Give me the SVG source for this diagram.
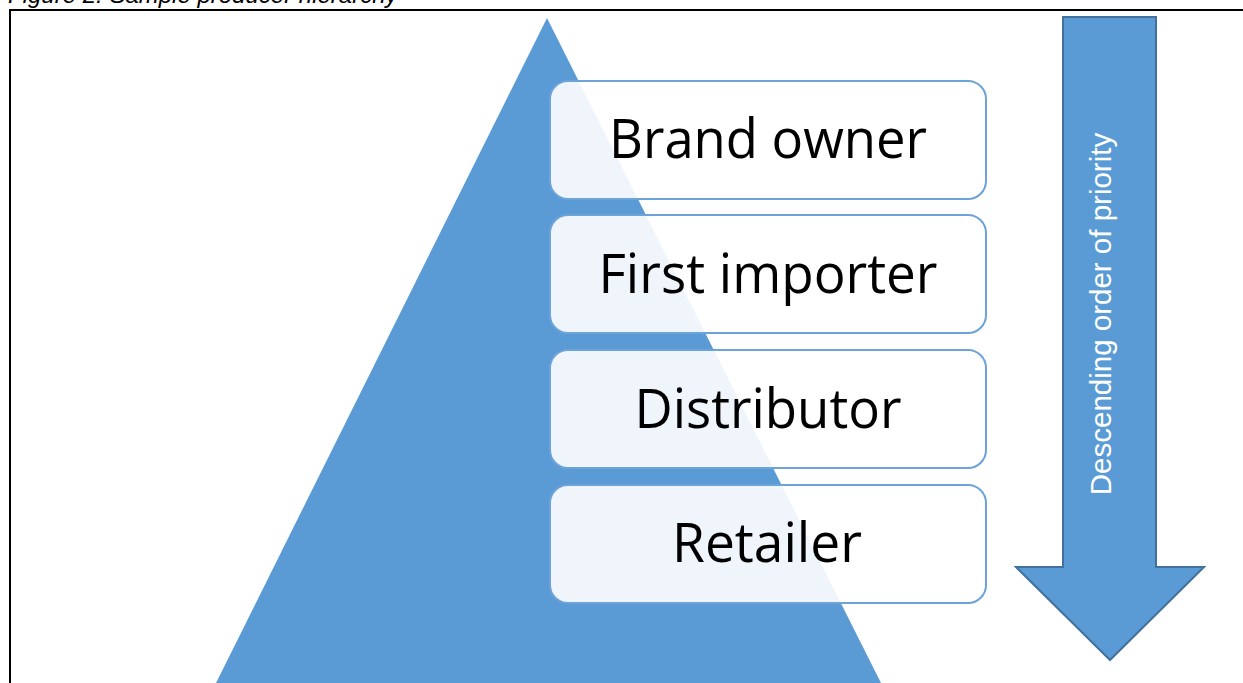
<svg xmlns="http://www.w3.org/2000/svg" width="1243" height="683" viewBox="0 0 1243 683">
<style>
.cap{font-family:"Liberation Sans",Arial,sans-serif;font-style:italic;font-size:24px;fill:#000}
.box{fill:#ffffff;fill-opacity:0.9;stroke:#6CA3D8;stroke-width:2}
.lbl{font-family:"Open Sans","Noto Sans",sans-serif;font-size:55px;fill:#000;text-anchor:middle}
.arr{fill:#5B9BD5;stroke:#41719C;stroke-width:2}
.vt{font-family:"Liberation Sans",Arial,sans-serif;font-size:29.5px;fill:#fff;text-anchor:middle}
</style>
<rect width="1243" height="683" fill="#fff"/>
<text class="cap" x="8" y="2.5">Figure 2: Sample producer hierarchy</text>
<path d="M10 683 V10 H1243" fill="none" stroke="#000" stroke-width="2"/>
<g id="pyramid"><polygon points="547,18 881,683 216,683" fill="#5B9BD5"/></g>
<g id="arrow">
<polygon class="arr" points="1063,17 1156,17 1156,567 1204,567 1110,660 1016,567 1063,567"/>
<text class="vt" transform="translate(1111,314) rotate(-90)">Descending order of priority</text>
</g>
<g id="connectors"></g>
<g id="n1"><rect class="box" x="550" y="81" width="436" height="118" rx="18"/><text class="lbl" x="768" y="158" textLength="318" lengthAdjust="spacingAndGlyphs">Brand owner</text></g>
<g id="n2"><rect class="box" x="550" y="215" width="436" height="118" rx="18"/><text class="lbl" x="768" y="293" textLength="339" lengthAdjust="spacingAndGlyphs">First importer</text></g>
<g id="n3"><rect class="box" x="550" y="350" width="436" height="118" rx="18"/><text class="lbl" x="768" y="428" textLength="267" lengthAdjust="spacingAndGlyphs">Distributor</text></g>
<g id="n4"><rect class="box" x="550" y="485" width="436" height="118" rx="18"/><text class="lbl" x="767" y="562" textLength="190" lengthAdjust="spacingAndGlyphs">Retailer</text></g>
</svg>
